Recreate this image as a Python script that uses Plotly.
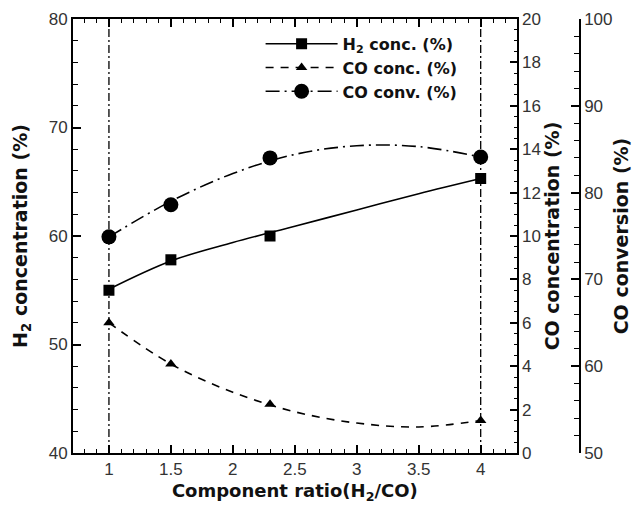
import plotly.graph_objects as go

# ---- data ----
ratio = [1.0, 1.5, 2.3, 4.0]                 # component ratio H2/CO (measured points)
h2_conc = [55.0, 57.8, 60.0, 65.3]           # H2 concentration (%), left axis
co_conc = [6.0, 4.1, 2.25, 1.5]              # CO concentration (%), right axis
co_conv = [74.9, 78.6, 84.0, 84.1]           # CO conversion (%), outer right axis

fit_x = [1.0, 1.5, 2.0, 2.5, 3.0, 3.5, 4.0]
fit_h2 = [55.1, 57.7, 59.4, 60.9, 62.4, 63.9, 65.3]
fit_co_conc = [6.0, 4.1, 2.8, 1.9, 1.38, 1.2, 1.5]
fit_co_conv = [74.9, 79.0, 82.2, 84.4, 85.4, 85.3, 84.1]

x_title = "<b>Component ratio(H<sub>2</sub>/CO)</b>"

TICKFONT = "Liberation Sans, Arial, sans-serif"
BOLDFONT = "DejaVu Sans, Liberation Sans, sans-serif"
BLACK = "black"

fig = go.Figure()

series = [
    ("<b>H<sub>2</sub> conc. (%)</b>", fit_h2, h2_conc, "y", "solid", "square", 11),
    ("<b>CO conc. (%)</b>", fit_co_conc, co_conc, "y2", "8px,7px", "triangle-up", 10),
    ("<b>CO conv. (%)</b>", fit_co_conv, co_conv, "y3", "14px,5px,2px,5px", "circle", 15),
]

for name, fy, my, yax, dash, sym, msize in series:
    fig.add_trace(go.Scatter(x=fit_x, y=fy, yaxis=yax, mode="lines",
                             line=dict(color=BLACK, width=1.6, dash=dash, shape="spline"),
                             showlegend=False, hoverinfo="skip"))
    fig.add_trace(go.Scatter(x=ratio, y=my, yaxis=yax, mode="markers",
                             marker=dict(symbol=sym, size=msize, color=BLACK),
                             showlegend=False))
    fig.add_trace(go.Scatter(x=[None], y=[None], yaxis=yax, mode="lines+markers", name=name,
                             line=dict(color=BLACK, width=1.6, dash=dash),
                             marker=dict(symbol=sym, size=msize, color=BLACK)))

# vertical dash-dot guide lines at first and last ratio
for xv in (ratio[0], ratio[-1]):
    fig.add_shape(type="line", x0=xv, x1=xv, y0=0, y1=1, xref="x", yref="paper",
                  line=dict(color=BLACK, width=1.3, dash="8px,3px,2px,3px"), layer="below")

tickfont = dict(family=TICKFONT, size=17, color="#333")
titlefont = dict(family=BOLDFONT, size=18, color="#111")
ytitlefont = dict(family=BOLDFONT, size=19, color="#111")

fig.update_layout(
    width=644, height=506,
    margin=dict(l=73, r=64, t=19, b=53, autoexpand=False),
    plot_bgcolor="white", paper_bgcolor="white",
    font=dict(family=TICKFONT, size=14, color="#111"),
    xaxis=dict(domain=[0, 0.875], range=[0.71, 4.29], tickmode="linear", tick0=1, dtick=0.5,
               ticks="inside", ticklen=8, tickwidth=1.5, tickcolor=BLACK,
               minor=dict(dtick=0.1, tick0=1, ticks="inside", ticklen=4, tickwidth=1.2, tickcolor=BLACK),
               showline=True, linecolor=BLACK, linewidth=2, mirror="ticks", showgrid=False,
               zeroline=False, tickfont=tickfont,
               title=dict(text=x_title, font=titlefont, standoff=6)),
    yaxis=dict(range=[40, 80], tickmode="linear", tick0=40, dtick=10,
               ticks="inside", ticklen=8, tickwidth=1.5, tickcolor=BLACK,
               minor=dict(dtick=2, tick0=40, ticks="inside", ticklen=5, tickwidth=1.2, tickcolor=BLACK),
               showline=True, linecolor=BLACK, linewidth=2, showgrid=False, zeroline=False,
               tickfont=tickfont,
               title=dict(text="<b>H<sub>2</sub> concentration (%)</b>", font=ytitlefont, standoff=16)),
    yaxis2=dict(overlaying="y", side="right", anchor="x", range=[0, 20], tickmode="linear",
                tick0=0, dtick=2, ticks="inside", ticklen=7, tickwidth=1.5, tickcolor=BLACK,
                minor=dict(dtick=0.5, tick0=0, ticks="inside", ticklen=3, tickwidth=1.2, tickcolor=BLACK),
                showline=True, linecolor=BLACK, linewidth=2, showgrid=False, zeroline=False,
                tickfont=tickfont,
                title=dict(text="<b>CO concentration (%)</b>", font=ytitlefont, standoff=2)),
    yaxis3=dict(overlaying="y", side="right", anchor="free", position=1.0, range=[50, 100],
                tickmode="linear", tick0=50, dtick=10, ticks="inside", ticklen=8, tickwidth=1.5,
                tickcolor=BLACK,
                minor=dict(dtick=2, tick0=50, ticks="inside", ticklen=5, tickwidth=1.2, tickcolor=BLACK),
                showline=True, linecolor=BLACK, linewidth=1.5, showgrid=False, zeroline=False,
                tickfont=tickfont,
                title=dict(text="<b>CO conversion (%)</b>", font=ytitlefont, standoff=2)),
    legend=dict(x=0.37, xanchor="left", y=0.982, yanchor="top", bgcolor="rgba(0,0,0,0)",
                itemwidth=72, font=dict(family=BOLDFONT, size=16, color="#111"), tracegroupgap=0),
    showlegend=True,
)

fig.write_html("out.html")
